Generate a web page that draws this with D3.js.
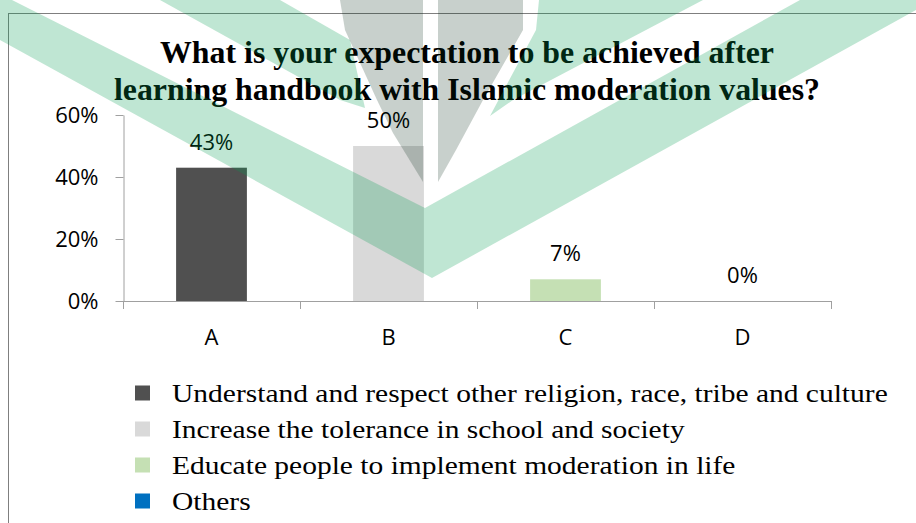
<!DOCTYPE html>
<html>
<head>
<meta charset="utf-8">
<script src="https://cdn.jsdelivr.net/npm/d3@7/dist/d3.min.js"></script>
<style>
  html, body { margin: 0; padding: 0; background: #fff; }
  svg { display: block; }
</style>
</head>
<body>
<svg id="chart" width="916" height="523"></svg>
<script>
// ---- data ----
const titleLines = [
  "What is your expectation to be achieved after",
  "learning handbook with Islamic moderation values?"
];
const categories = ["A", "B", "C", "D"];
const values = [0.43, 0.50, 0.07, 0.00];
const seriesNames = [
  "Understand and respect other religion, race, tribe and culture",
  "Increase the tolerance in school and society",
  "Educate people to implement moderation in life",
  "Others"
];
const seriesColors = ["#505050", "#d9d9d9", "#c5e0b4", "#0070c0"];
const yTicks = [0, 0.2, 0.4, 0.6];

// ---- background watermark (decoration of the source page) ----
const watermarkGreen = [
  [[0,0],[12,0],[425,208],[800,0],[916,0],[916,10],[432,278],[0,40]],
  [[160,0],[280,0],[350,40],[365,108],[340,100]],
  [[539,0],[703,0],[513,100],[490,116],[536,30]]
];
const watermarkGray = [
  [[340,0],[423,0],[423,182],[393,133],[377,100],[345,30]],
  [[438,0],[523,0],[523,30],[483,100],[456,150],[438,182]]
];

const svg = d3.select("#chart");
const W = 916, H = 523;

// frame
svg.append("line").attr("x1", 8).attr("x2", W).attr("y1", 13.5).attr("y2", 13.5)
  .attr("stroke", "#7f7f7f").attr("stroke-width", 1);
svg.append("line").attr("x1", 8.5).attr("x2", 8.5).attr("y1", 13).attr("y2", H)
  .attr("stroke", "#7f7f7f").attr("stroke-width", 1);

// scales
const x = d3.scaleBand().domain(categories).range([123, 831])
  .paddingInner(0.6).paddingOuter(0.3);
const y = d3.scaleLinear().domain([0, 0.6]).range([301, 115]);
const pct = d3.format(".0%");
const axisColor = "#a0a0a0";
const labelFont = "'Open Sans', 'Noto Sans', sans-serif";
const labelSize = 22;

// title
const title = svg.append("g").attr("font-family", "'Liberation Serif', 'Times New Roman', serif")
  .attr("font-weight", "bold").attr("font-size", 31).attr("fill", "#000")
  .attr("text-anchor", "middle");
const titleWidths = [614, 706];
titleLines.forEach((t, i) => {
  title.append("text").attr("x", 467).attr("y", 63 + i * 36.5)
    .attr("textLength", titleWidths[i]).attr("lengthAdjust", "spacingAndGlyphs")
    .text(t);
});

// y axis
const yAxis = svg.append("g").attr("transform", "translate(123.5,0)")
  .call(d3.axisLeft(y).tickValues(yTicks).tickSize(8).tickSizeOuter(0)
    .tickPadding(17).tickFormat(pct));
yAxis.select(".domain").attr("stroke", axisColor);
yAxis.selectAll(".tick line").attr("stroke", axisColor);
yAxis.selectAll(".tick text").attr("font-family", labelFont).attr("font-size", labelSize)
  .attr("fill", "#000").attr("dy", "0.36em");

// x axis line and boundary ticks
const x0 = x.range()[0], step = x.step();
svg.append("line").attr("x1", x0).attr("x2", x.range()[1])
  .attr("y1", y(0) + 0.5).attr("y2", y(0) + 0.5).attr("stroke", axisColor);
d3.range(categories.length + 1).forEach(i => {
  const xx = Math.round(x0 + i * step) + 0.5;
  svg.append("line").attr("x1", xx).attr("x2", xx)
    .attr("y1", y(0)).attr("y2", y(0) + 8).attr("stroke", axisColor);
});
svg.append("g").selectAll("text").data(categories).join("text")
  .attr("x", d => x(d) + x.bandwidth() / 2).attr("y", 337).attr("dy", "0.36em")
  .attr("text-anchor", "middle").attr("font-family", labelFont).attr("font-size", labelSize)
  .attr("fill", "#000").text(d => d);

// bars
const data = categories.map((c, i) => ({ c, v: values[i], color: seriesColors[i] }));
svg.append("g").selectAll("rect").data(data).join("rect")
  .attr("x", d => x(d.c)).attr("width", x.bandwidth())
  .attr("y", d => y(d.v)).attr("height", d => y(0) - y(d.v))
  .attr("fill", d => d.color);

// data labels
svg.append("g").selectAll("text").data(data).join("text")
  .attr("x", d => x(d.c) + x.bandwidth() / 2).attr("y", d => y(d.v) - 26)
  .attr("dy", "0.36em").attr("text-anchor", "middle")
  .attr("font-family", labelFont).attr("font-size", labelSize).attr("fill", "#000")
  .text(d => pct(d.v));

// legend
const legend = svg.append("g");
const rows = legend.selectAll("g").data(seriesNames).join("g")
  .attr("transform", (d, i) => `translate(135,${393 + i * 36})`);
rows.append("rect").attr("x", 0).attr("y", -7.5).attr("width", 15).attr("height", 15)
  .attr("fill", (d, i) => seriesColors[i]);
const legendTexts = rows.append("text").attr("x", 0).attr("y", 0).attr("dy", "0.33em")
  .attr("font-family", "'Liberation Serif', 'Times New Roman', serif")
  .attr("font-size", 26).attr("fill", "#000").text(d => d);
// the source legend text is drawn slightly wide; match its first-row width
const firstLen = legendTexts.node().getComputedTextLength();
const sx = firstLen > 0 ? 716 / firstLen : 1;
legendTexts.attr("transform", `translate(37,0) scale(${sx},1)`);

// watermark overlay
const wm = svg.append("g").attr("pointer-events", "none");
wm.selectAll("polygon.g").data(watermarkGreen).join("polygon").attr("class", "g")
  .attr("points", d => d.map(p => p.join(",")).join(" "))
  .attr("fill", "rgb(0,154,81)").attr("fill-opacity", 0.25);
wm.selectAll("polygon.k").data(watermarkGray).join("polygon").attr("class", "k")
  .attr("points", d => d.map(p => p.join(",")).join(" "))
  .attr("fill", "rgb(0,37,18)").attr("fill-opacity", 0.216);
</script>
</body>
</html>
